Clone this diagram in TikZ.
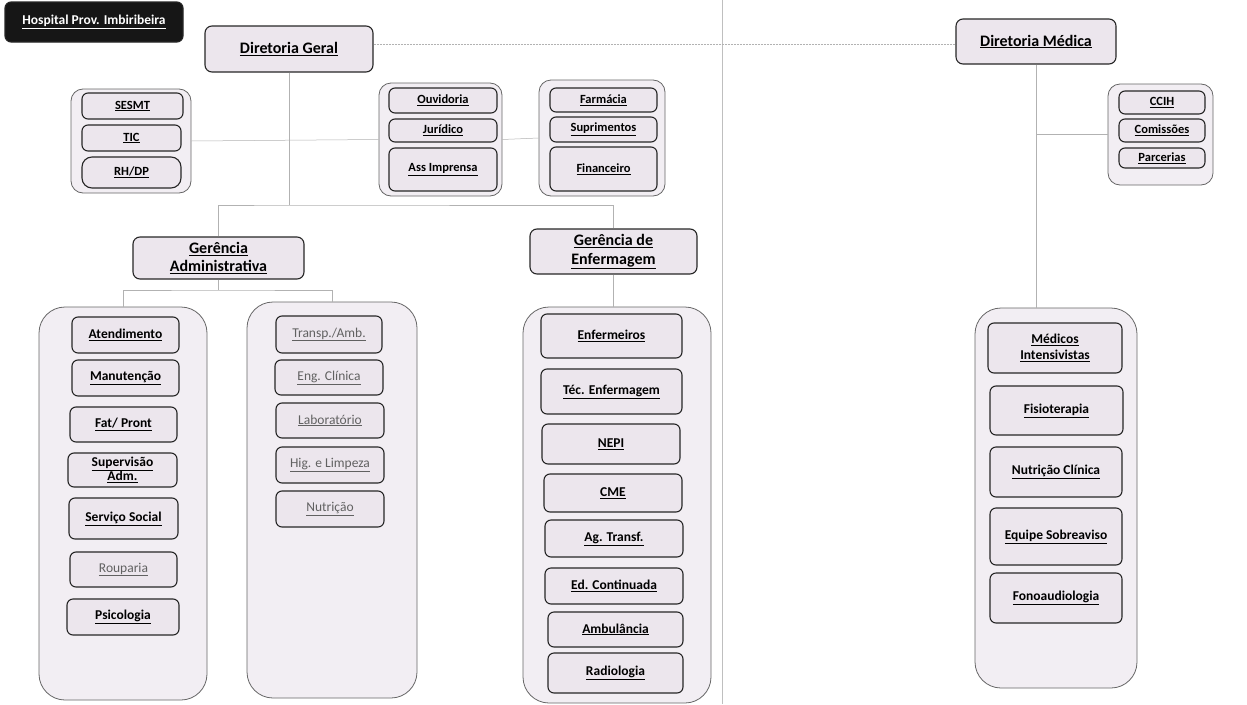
\documentclass[tikz,border=0pt]{standalone}
\usepackage{fontspec}
\setmainfont{Carlito}
\definecolor{unitfill}{HTML}{ECE6ED}
\definecolor{grpfill}{HTML}{F2EEF3}
\definecolor{titlefill}{HTML}{161616}
\newcommand{\lbl}[1]{\underline{#1}}

\begin{document}
\begin{tikzpicture}[x=1pt,y=-1pt,
	sz/.style 2 args={minimum width=#1pt, minimum height=#2pt},
	unit/.style={draw=black!85, line width=1.1pt, rounded corners=6pt, fill=unitfill, inner sep=0pt, align=center, font=\bfseries\fontsize{13.5}{15}\selectfont},
	small/.style={unit, font=\bfseries\fontsize{12.5}{14}\selectfont},
	head/.style={unit, rounded corners=7pt, font=\bfseries\fontsize{16}{18.5}\selectfont},
	pale/.style={font=\fontsize{13.5}{15}\selectfont, text=black!62},
	grp/.style={draw=black!60, line width=0.8pt, fill=grpfill, rounded corners=12pt, inner sep=0pt},
	col/.style={grp, rounded corners=26pt},
	link/.style={draw=black!30, line width=0.5pt},
	dots/.style={link, densely dotted, line width=0.7pt}]
	\useasboundingbox (0,0) rectangle (1247,704);
	% page fold
	\draw[black!25, line width=0.6pt] (722,0) -- (722,704);

	% top
	\node[unit, sz={178}{40}, fill=titlefill, text=white] (title) at (94,22) {\lbl{Hospital Prov. Imbiribeira}};
	\node[head, sz={168}{46}] (geral) at (289,49) {\lbl{Diretoria Geral}};
	\node[head, sz={160}{45}] (medica) at (1036,41.5) {\lbl{Diretoria Médica}};

	% staff groups
	\node[grp, sz={120}{104}] (gsesmt) at (131,141) {};
	\node[small, sz={101}{26}] (sesmt) at (132.5,106) {\lbl{SESMT}};
	\node[small, sz={99}{26}] (tic) at (131.5,138) {\lbl{TIC}};
	\node[small, sz={99}{31}, rounded corners=10pt] (rhdp) at (131.5,172.5) {\lbl{RH/DP}};

	\node[grp, sz={123}{113}] (gouv) at (440.5,139.5) {};
	\node[small, sz={108}{25}] (ouv) at (443,100.5) {\lbl{Ouvidoria}};
	\node[small, sz={108}{23}] (jur) at (443,130.5) {\lbl{Jurídico}};
	\node[small, sz={108}{43}] (imprensa) at (443,169.5) {\lbl{Ass Imprensa}};

	\node[grp, sz={126}{116}] (gfarm) at (602,138) {};
	\node[small, sz={107}{24}] (farm) at (603.5,100) {\lbl{Farmácia}};
	\node[small, sz={107}{25}] (supr) at (603.5,129.5) {\lbl{Suprimentos}};
	\node[small, sz={107}{44}] (fin) at (603.5,169) {\lbl{Financeiro}};

	\node[grp, sz={105}{101}] (gccih) at (1160.5,134.5) {};
	\node[small, sz={86}{23}] (ccih) at (1162,102.5) {\lbl{CCIH}};
	\node[small, sz={86}{23}] (comis) at (1162,130.5) {\lbl{Comissões}};
	\node[small, sz={86}{20}] (parc) at (1162,158) {\lbl{Parcerias}};

	% gerencias
	\node[head, sz={171}{42}] (gadm) at (218.5,258) {\lbl{Gerência}\\\lbl{Administrativa}};
	\node[head, sz={167}{45}] (genf) at (613.5,251.5) {\lbl{Gerência de}\\\lbl{Enfermagem}};

	% administrativa
	\node[col, sz={168}{393}] (adm1) at (123,503.5) {};
	\node[unit, sz={107}{36}] (atend) at (125.5,335) {\lbl{Atendimento}};
	\node[unit, sz={107}{36}] (manut) at (125.5,378) {\lbl{Manutenção}};
	\node[unit, sz={107}{35}] (fat) at (123.5,424.5) {\lbl{Fat/ Pront}};
	\node[unit, sz={109}{34}, font=\bfseries\fontsize{13.5}{14}\selectfont] (superv) at (122.5,470) {\lbl{Supervisão}\\\lbl{Adm.}};
	\node[unit, sz={109}{41}] (social) at (123.5,518.5) {\lbl{Serviço Social}};
	\node[unit, pale, sz={107}{35}] (roup) at (123.5,569.5) {\lbl{Rouparia}};
	\node[unit, sz={112}{36}] (psico) at (123,617) {\lbl{Psicologia}};

	\node[col, sz={170}{396}] (adm2) at (332,500) {};
	\node[unit, pale, sz={106}{37}] (transp) at (329,334.5) {\lbl{Transp./Amb.}};
	\node[unit, pale, sz={108}{35}] (engcl) at (329,377.5) {\lbl{Eng. Clínica}};
	\node[unit, pale, sz={108}{35}] (lab) at (330,420.5) {\lbl{Laboratório}};
	\node[unit, pale, sz={108}{36}] (hig) at (330,465) {\lbl{Hig. e Limpeza}};
	\node[unit, pale, sz={108}{36}] (nutr) at (330,509) {\lbl{Nutrição}};

	% enfermagem
	\node[col, sz={188}{396}] (enf) at (617,505) {};
	\node[unit, sz={141}{44}] (enfer) at (611.5,336) {\lbl{Enfermeiros}};
	\node[unit, sz={141}{45}] (tec) at (611.5,391.5) {\lbl{Téc. Enfermagem}};
	\node[unit, sz={138}{40}] (nepi) at (611,444) {\lbl{NEPI}};
	\node[unit, sz={138}{38}] (cme) at (613,493) {\lbl{CME}};
	\node[unit, sz={138}{37}] (agt) at (614,538.5) {\lbl{Ag. Transf.}};
	\node[unit, sz={138}{36}] (edc) at (614,586) {\lbl{Ed. Continuada}};
	\node[unit, sz={135}{35}] (amb) at (615.5,629.5) {\lbl{Ambulância}};
	\node[unit, sz={135}{40}] (radio) at (615.5,673) {\lbl{Radiologia}};

	% medica
	\node[col, sz={162}{380}] (med) at (1056,498) {};
	\node[unit, sz={134}{50}, font=\bfseries\fontsize{13.5}{16}\selectfont] (intens) at (1055,348) {\lbl{Médicos}\\\lbl{Intensivistas}};
	\node[unit, sz={133}{49}] (fisio) at (1056.5,410.5) {\lbl{Fisioterapia}};
	\node[unit, sz={132}{50}] (nutcl) at (1056,472) {\lbl{Nutrição Clínica}};
	\node[unit, sz={132}{57}] (sobre) at (1056,536.5) {\lbl{Equipe Sobreaviso}};
	\node[unit, sz={132}{50}] (fono) at (1056,598) {\lbl{Fonoaudiologia}};

	% connectors
	\coordinate (gjoin) at (289,205);
	\coordinate (ajoin) at (218.5,290);
	\draw[dots] (geral.3) -- (geral.3 -| medica.west);
	\draw[link] (geral.south) -- (gjoin);
	\draw[link] (gsesmt.east) -- (gouv.west);
	\draw[link] (gouv.east) -- (gfarm.west);
	\draw[link] (gadm.north) |- (gjoin) -| (genf.north);
	\draw[link] (gadm.south) -- (ajoin);
	\draw[link] (adm1.north) |- (ajoin) -| (adm2.north);
	\draw[link] (genf.south) -- (genf.south |- enf.north);
	\coordinate (mjoin) at (medica.south |- gccih.west);
	\draw[link] (medica.south) -- (medica.south |- med.north);
	\draw[link] (mjoin) -- (gccih.west);
\end{tikzpicture}
\end{document}
